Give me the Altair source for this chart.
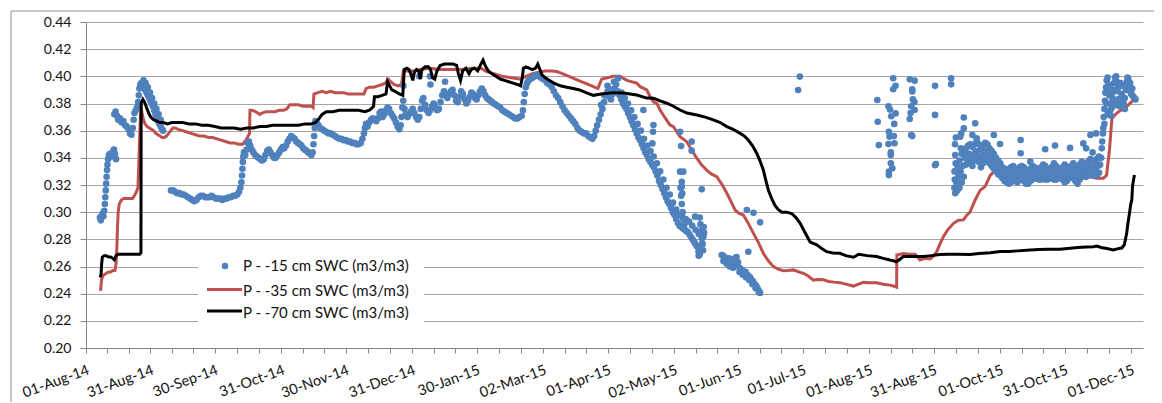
import json
from datetime import datetime

import altair as alt
import pandas as pd

# ---------------------------------------------------------------- data
BASE = pd.Timestamp("2014-08-01")          # day 0 of the x offsets below

series_names = ["P - -15 cm SWC (m3/m3)", "P - -35 cm SWC (m3/m3)", "P - -70 cm SWC (m3/m3)"]
series_colors = ["#4F81BD", "#C0504D", "#000000"]

tick_labels = ["01-Aug-14", "31-Aug-14", "30-Sep-14", "31-Oct-14", "30-Nov-14", "31-Dec-14",
               "30-Jan-15", "02-Mar-15", "01-Apr-15", "02-May-15", "01-Jun-15", "01-Jul-15",
               "01-Aug-15", "31-Aug-15", "01-Oct-15", "31-Oct-15", "01-Dec-15"]
y_ticks = [0.20, 0.22, 0.24, 0.26, 0.28, 0.30, 0.32, 0.34, 0.36, 0.38, 0.40, 0.42, 0.44]
x_end_day = 492.5

# -15 cm (days since 01-Aug-14, value)
swc15_aug14 = [(6.5, .296), (6.9, .294), (7.3, .297), (7.7, .299), (8.1, .297), (8.5, .301), (8.8, .306),
               (9.0, .311), (9.2, .316), (9.4, .321), (9.6, .326), (9.8, .331), (10.0, .335), (10.3, .339),
               (10.7, .342), (11.2, .343), (11.8, .341), (12.4, .344), (13.0, .346), (13.5, .343), (14.0, .339)]
swc15_aug14b = [(13.2, .372), (13.8, .374), (14.4, .371), (15.0, .368), (15.8, .369), (16.6, .366), (17.4, .367),
                (18.2, .364), (19.0, .363), (19.8, .361), (20.5, .358), (21.2, .357), (21.8, .362), (22.2, .368),
                (22.6, .373), (23.2, .375), (23.8, .377), (24.3, .381), (24.6, .386), (24.9, .391), (25.3, .394),
                (25.8, .395), (26.4, .394), (27.0, .392), (27.6, .390), (28.2, .388), (28.8, .386), (29.4, .384),
                (30.0, .382), (30.6, .380), (31.2, .378), (31.8, .375), (32.4, .372), (33.0, .370), (33.6, .367),
                (34.2, .365), (34.8, .363), (35.4, .361), (35.9, .360), (26.8, .397), (27.8, .395), (28.8, .392),
                (29.8, .388), (30.8, .384), (31.8, .380), (32.8, .376), (33.8, .372), (34.8, .368)]
swc15_sep14 = [(39.6, .316), (40.5, .316), (41.5, .315), (42.5, .314), (43.5, .314), (44.5, .313), (45.5, .313),
               (46.5, .312), (47.5, .311), (48.5, .310), (49.5, .309), (50.5, .308), (51.5, .309), (52.5, .311),
               (53.5, .312), (54.5, .312), (55.5, .311), (56.5, .311), (57.5, .311), (58.5, .312), (59.5, .311),
               (60.5, .310), (61.5, .310), (62.5, .310), (63.5, .309), (64.5, .310), (65.5, .310), (66.5, .311),
               (67.5, .311), (68.5, .312), (69.5, .312), (70.5, .313), (71.3, .315), (71.9, .318), (72.4, .322),
               (72.7, .327), (72.9, .332), (73.1, .337), (73.3, .341), (73.6, .344)]
swc15_oct14 = [(74.2, .342), (74.8, .346), (75.3, .351), (75.9, .352), (76.5, .349), (77.2, .346), (78.0, .344),
               (78.8, .342), (79.6, .341), (80.4, .340), (81.2, .339), (82.0, .338), (82.8, .339), (83.6, .342),
               (84.4, .345), (85.2, .346), (86.0, .344), (86.8, .342), (87.6, .340), (88.4, .340), (89.2, .342),
               (90.0, .344), (90.8, .346), (91.6, .348), (92.4, .347), (93.2, .349), (94.0, .352), (94.8, .354),
               (95.6, .356), (96.4, .355), (97.2, .354), (98.0, .352), (98.8, .351), (99.6, .350), (100.4, .349),
               (101.2, .347), (102.0, .346), (102.8, .345), (103.6, .344), (104.4, .343), (105.0, .342),
               (105.6, .344), (106.0, .350), (106.3, .356), (106.6, .362), (106.9, .367), (107.5, .366),
               (108.3, .364), (109.1, .362), (110.0, .361), (111.0, .360), (112.0, .359), (113.0, .358),
               (114.0, .358), (115.0, .357), (116.0, .356), (117.0, .355), (118.0, .354), (119.0, .354),
               (120.0, .353), (121.0, .353), (122.0, .352), (123.0, .352), (124.0, .351), (125.0, .351),
               (126.0, .350), (127.0, .350), (128.0, .351), (128.8, .354), (129.5, .358), (130.0, .362),
               (130.5, .365), (131.2, .363), (132.0, .366), (132.8, .368), (133.6, .369), (134.4, .368),
               (135.2, .367), (136.0, .369), (136.8, .373), (137.5, .374), (138.2, .370), (139.0, .372),
               (139.8, .375), (140.5, .377), (141.2, .376), (142.0, .373), (142.8, .371), (143.6, .369),
               (144.4, .366), (145.2, .363), (146.0, .361)]
swc15_jan15 = [(146.6, .364), (147.0, .370), (147.4, .377), (147.8, .382), (148.4, .376), (149.0, .372),
               (149.8, .370), (150.6, .372), (151.4, .374), (152.2, .376), (153.0, .373), (153.8, .370),
               (154.6, .368), (155.3, .370), (156.0, .376), (156.6, .382), (157.2, .384), (158.0, .379),
               (158.8, .375), (159.6, .373), (160.4, .375), (161.2, .378), (162.0, .380), (162.8, .377),
               (163.6, .375), (164.4, .376), (165.2, .381), (166.0, .386), (166.8, .389), (167.6, .386),
               (168.4, .384), (169.2, .387), (170.0, .389), (170.8, .390), (171.6, .386), (172.4, .382),
               (173.2, .381), (174.0, .385), (174.8, .389), (175.6, .387), (176.4, .383), (177.2, .380),
               (178.0, .382), (178.8, .385), (179.6, .388), (180.4, .387), (181.2, .384), (182.0, .383),
               (182.8, .386), (183.6, .389), (184.4, .391), (185.2, .389), (186.0, .386), (186.8, .384),
               (187.6, .383), (188.4, .382), (189.2, .381), (190.0, .380), (191.0, .379), (192.0, .378),
               (193.0, .377), (194.0, .375), (195.0, .374), (196.0, .373), (197.0, .372), (198.0, .371),
               (199.0, .370), (200.0, .369), (201.0, .369), (202.0, .370), (203.0, .371), (203.6, .375),
               (204.0, .381), (204.4, .387), (204.9, .392), (205.5, .395), (206.2, .397), (207.0, .398),
               (208.0, .399), (209.0, .400), (210.0, .401), (211.0, .400), (212.0, .399), (213.0, .398),
               (214.0, .397), (215.0, .395), (216.0, .394), (217.0, .392), (218.0, .389), (219.0, .386),
               (220.0, .384), (221.0, .381), (222.0, .378), (223.0, .375), (224.0, .373), (225.0, .371),
               (226.0, .369), (227.0, .367), (228.0, .365), (229.0, .362), (230.0, .360), (231.0, .359),
               (232.0, .358), (233.0, .358), (234.0, .356), (235.0, .355), (236.0, .354),
               (147.9, .393), (155.3, .400), (160.3, .400), (160.5, .394), (167.3, .396)]
swc15_apr15 = [(236.8, .356), (237.5, .360), (238.2, .364), (239.0, .368), (239.8, .372), (240.6, .376),
               (241.4, .381), (242.2, .386), (243.0, .389), (243.8, .385), (244.6, .383), (245.4, .387),
               (246.2, .391), (247.0, .394), (247.8, .389), (248.6, .386), (249.4, .383), (250.2, .380),
               (251.0, .378), (251.8, .376), (252.6, .373), (253.4, .370), (254.2, .367), (255.0, .364),
               (255.8, .361), (256.6, .358), (257.4, .355), (258.2, .353), (259.0, .350), (259.8, .347),
               (260.6, .344), (261.4, .342), (262.2, .339), (263.0, .337), (263.8, .335), (264.6, .333),
               (265.4, .330), (266.2, .327), (267.0, .323), (267.8, .320), (268.6, .317), (269.4, .314),
               (270.2, .311), (271.0, .308), (271.8, .306), (272.6, .303), (273.4, .300), (274.2, .298),
               (275.0, .295), (275.8, .292), (276.6, .290), (277.4, .289), (278.2, .288), (279.0, .287),
               (279.8, .286), (280.6, .285), (281.4, .283), (282.2, .281), (283.0, .279), (283.8, .277),
               (284.6, .275), (285.4, .271), (286.0, .269), (286.6, .272), (287.2, .277), (287.7, .282)]
swc15_apr15_upper = [(240.0, .379), (241.5, .386), (243.0, .393), (244.5, .390), (246.0, .396), (249.5, .388),
                     (251.0, .384), (252.5, .380), (254.0, .375), (255.5, .370), (257.0, .365), (258.5, .360),
                     (260.0, .354), (261.5, .349), (263.0, .345), (264.5, .341), (266.0, .336), (267.5, .330),
                     (269.0, .324), (270.5, .318), (272.0, .313), (273.5, .307), (275.0, .302), (276.5, .298),
                     (278.0, .296), (279.5, .295), (281.0, .293), (282.5, .290), (284.0, .287), (285.5, .284)]
swc15_may15_scatter = [(277.0, .318), (277.3, .312), (277.6, .306), (278.0, .300), (278.4, .295), (278.8, .291),
                       (286.0, .296), (286.3, .291), (286.6, .286), (286.9, .281), (287.2, .276), (287.5, .272),
                       (285.5, .268), (287.8, .289), (288.0, .285), (248.0, .3985), (259.7, .3752),
                       (264.4, .3642), (264.2, .3592), (263.9, .3506), (276.8, .3592), (277.3, .3487),
                       (282.2, .3519), (282.2, .3453), (276.8, .3298), (278.3, .3298), (277.6, .3224),
                       (277.6, .3188), (277.8, .3139), (286.9, .3168), (283.8, .2967), (307.9, .3016),
                       (311.0, .2996), (314.1, .2925), (308.6, .2709)]
swc15_jun15 = [(296.2, .2685), (296.8, .268), (297.5, .267), (298.2, .266), (298.9, .265), (299.6, .266),
               (300.3, .265), (301.0, .263), (301.7, .264), (302.4, .266), (303.1, .267), (303.8, .263),
               (304.5, .259), (305.2, .258), (305.9, .257), (306.6, .256), (307.3, .256), (308.0, .254),
               (308.7, .253), (309.4, .252), (310.1, .250), (310.8, .249), (311.5, .247), (312.2, .246),
               (312.9, .244), (313.6, .242), (314.1, .2405), (297.0, .264), (298.5, .262), (300.0, .260),
               (301.5, .259), (303.0, .261), (304.5, .256), (306.0, .254), (307.5, .252), (309.0, .250),
               (310.5, .247), (312.0, .244), (313.5, .241)]
swc15_summer15 = [(332.6, .3998), (331.8, .3899), (368.7, .3826), (368.9, .3666), (369.4, .3494), (373.9, .3780),
                  (374.6, .3755), (375.2, .3706), (374.1, .3592), (374.4, .3556), (373.9, .3502), (375.0, .3421),
                  (375.0, .3360), (374.1, .3298), (374.1, .3273), (376.1, .3985), (377.2, .3930), (376.1, .3905),
                  (377.2, .3727), (376.4, .3560), (376.7, .3507), (375.7, .3323), (376.6, .3650), (375.0, .3440),
                  (383.8, .3978), (386.1, .3968), (385.0, .3905), (385.0, .3888), (385.3, .3830), (384.5, .3780),
                  (386.1, .3752), (383.8, .3686), (384.5, .3568), (385.0, .3560), (386.0, .3810), (384.2, .3730),
                  (395.6, .3930), (395.6, .3716), (396.0, .3355), (395.6, .3345), (403.1, .3985), (403.1, .3941)]
swc15_oct15_low = [(405, .314), (406, .316), (407, .318), (408, .322), (409, .326), (410, .335), (411, .338),
                   (412, .337), (413, .334), (414, .338), (415, .340), (416, .337), (417, .333), (418, .336),
                   (419, .339), (420, .338), (421, .336), (422, .334), (423, .332), (424, .330), (425, .328),
                   (426, .327), (427, .325), (428, .323), (429, .322), (430, .321), (431, .322), (432, .324),
                   (433, .323), (434, .322), (435, .324), (436, .325), (437, .323), (438, .321), (439, .321),
                   (440, .323), (441, .324), (442, .325), (443, .325), (444, .324), (445, .324), (446, .325),
                   (447, .324), (448, .324), (449, .325), (450, .325), (451, .324), (452, .324), (453, .325),
                   (454, .325), (455, .324), (456, .322), (457, .323), (458, .325), (459, .326), (460, .325),
                   (461, .323), (462, .321), (463, .324), (464, .326), (465, .327), (466, .326), (467, .327),
                   (468, .328), (469, .327), (470, .328), (471, .327), (472, .329)]
swc15_oct15_mid = [(405.5, .322), (406.5, .326), (407.5, .330), (408.5, .334), (409.5, .340), (410.5, .342),
                   (411.5, .343), (412.5, .341), (413.5, .342), (414.5, .345), (415.5, .345), (416.5, .341),
                   (417.5, .340), (418.5, .344), (419.5, .345), (420.5, .342), (421.5, .340), (422.5, .338),
                   (423.5, .335), (424.5, .334), (425.5, .332), (426.5, .330), (427.5, .328), (428.5, .327),
                   (429.5, .326), (430.5, .327), (431.5, .328), (432.5, .328), (433.5, .327), (434.5, .327),
                   (435.5, .329), (436.5, .328), (437.5, .326), (438.5, .325), (439.5, .327), (440.5, .329),
                   (441.5, .329), (442.5, .328), (443.5, .327), (444.5, .328), (445.5, .330), (446.5, .329),
                   (447.5, .328), (448.5, .328), (449.5, .329), (450.5, .330), (451.5, .329), (452.5, .328),
                   (453.5, .328), (454.5, .328), (455.5, .329), (456.5, .328), (457.5, .327), (458.5, .329),
                   (459.5, .330), (460.5, .329), (461.5, .327), (462.5, .328), (463.5, .330), (464.5, .331),
                   (465.5, .331), (466.5, .331), (467.5, .332), (468.5, .333), (469.5, .332), (470.5, .332),
                   (471.5, .334)]
swc15_oct15_high = [(405, .330), (406, .334), (407, .338), (408, .343), (409, .346), (410, .347), (411, .349),
                    (412, .350), (413, .348), (414, .350), (415, .352), (416, .350), (417, .347), (418, .349),
                    (419, .351), (420, .350), (421, .347), (422, .345), (423, .343), (424, .340), (425, .338),
                    (426, .336), (427, .333), (428, .332), (429, .331), (430, .332), (431, .333), (432, .334),
                    (433, .332), (434, .331), (435, .333), (436, .334), (437, .333), (438, .331), (439, .330),
                    (440, .332), (441, .334), (442, .333), (443, .332), (444, .331), (445, .333), (446, .335),
                    (447, .334), (448, .332), (449, .331), (450, .333), (451, .336), (452, .334), (453, .332),
                    (454, .331), (455, .333), (456, .335), (457, .333), (458, .332), (459, .334), (460, .336),
                    (461, .334), (462, .333), (463, .335), (464, .337), (465, .336), (466, .335), (467, .337),
                    (468, .339), (469, .338), (470, .337), (471, .339), (472, .341)]
swc15_oct15_scatter = [(404.6, .318), (404.8, .324), (404.7, .330), (405.2, .336), (405.0, .342), (404.9, .350),
                       (405.3, .355), (409.0, .3697), (409.0, .3617), (407.3, .3556), (407.8, .3580), (407.6, .3470),
                       (413.0, .3568), (414.3, .3654), (415.0, .3543), (423.0, .3568), (425.9, .3502),
                       (435.5, .3531), (435.5, .3434), (440.0, .3372), (446.9, .3463), (451.5, .3490),
                       (458.5, .3473), (464.7, .3506), (468.0, .3568), (470.6, .3580), (466.0, .3470),
                       (469.0, .3440)]
swc15_dec15 = [(472.5, .335), (473.0, .340), (473.3, .347), (473.5, .352), (473.8, .358), (474.0, .362),
               (474.2, .370), (474.5, .376), (474.8, .382), (475.0, .388), (475.3, .392), (475.6, .397),
               (476.0, .399), (476.5, .394), (476.8, .386), (477.0, .380), (477.3, .375), (477.6, .371),
               (478.0, .377), (478.3, .384), (478.6, .390), (479.0, .395), (479.5, .399), (480.0, .400),
               (480.3, .396), (480.6, .389), (481.0, .383), (481.5, .378), (482.0, .382), (482.5, .387),
               (483.0, .385), (483.5, .380), (484.0, .384), (484.5, .390), (485.0, .396), (485.3, .399),
               (485.7, .398), (486.0, .393), (486.5, .389), (487.0, .387), (487.5, .386), (488.0, .385),
               (488.5, .384), (489.0, .383), (476.0, .390), (477.0, .392), (478.0, .388), (479.0, .382),
               (480.0, .379), (481.0, .392), (482.0, .395), (483.0, .393), (484.0, .376), (486.5, .395),
               (487.5, .391), (474.5, .365), (476.0, .372), (475.5, .380)]

# -35 cm
swc35 = [(6.8, .242), (7.2, .250), (7.8, .253), (8.5, .254), (9.5, .255), (10.5, .256), (11.5, .256),
         (12.5, .257), (13.5, .257), (14.0, .262), (14.4, .275), (14.7, .290), (15.0, .300), (15.5, .306),
         (16.5, .309), (17.5, .310), (18.5, .310), (19.5, .310), (20.5, .310), (21.7, .310), (22.5, .312),
         (23.5, .315), (24.2, .318), (24.6, .335), (25.0, .355), (25.4, .372), (25.7, .377), (26.2, .372),
         (26.8, .368), (27.5, .365), (28.5, .363), (29.5, .362), (30.5, .361), (31.5, .360), (32.5, .358),
         (33.5, .357), (34.5, .356), (35.5, .355), (36.5, .355), (37.5, .356), (38.5, .358), (39.5, .360),
         (40.5, .362), (41.5, .362), (43.0, .361), (45.0, .360), (47.0, .359), (49.0, .358), (51.0, .357),
         (53.0, .356), (55.0, .356), (57.0, .355), (59.0, .355), (61.0, .354), (63.0, .353), (65.0, .352),
         (67.0, .351), (69.0, .351), (71.0, .350), (73.0, .350), (74.5, .353), (75.5, .356), (76.2, .358),
         (76.4, .375), (77.5, .375), (79.0, .374), (80.0, .373), (81.0, .372), (82.0, .373), (84.0, .374),
         (86.0, .374), (88.0, .374), (90.0, .375), (92.0, .375), (93.5, .376), (95.0, .379), (97.0, .379),
         (99.0, .379), (101.0, .378), (103.0, .378), (105.0, .378), (105.8, .377), (106.2, .387),
         (108.0, .388), (110.0, .389), (112.0, .388), (114.0, .389), (116.0, .388), (118.0, .388),
         (120.0, .388), (122.0, .387), (124.0, .387), (126.0, .387), (128.0, .387), (129.5, .387),
         (130.5, .391), (132.0, .392), (134.0, .392), (136.0, .393), (138.0, .394), (139.5, .395),
         (140.8, .398), (142.0, .396), (143.5, .394), (145.5, .393), (147.0, .394), (147.9, .404),
         (150.0, .404), (153.0, .404), (156.0, .405), (160.0, .406), (165.0, .405), (170.0, .405),
         (175.0, .405), (180.0, .406), (184.0, .406), (186.7, .4035), (190.0, .402), (194.0, .400),
         (198.0, .399), (202.0, .398), (205.0, .400), (208.0, .402), (211.0, .403), (214.0, .404),
         (217.0, .404), (219.3, .4035), (222.0, .402), (225.0, .400), (228.0, .398), (231.0, .396),
         (234.0, .394), (237.0, .392), (238.5, .391), (239.5, .395), (240.3, .398), (243.0, .399),
         (245.7, .400), (248.8, .400), (252.0, .397), (256.6, .395), (258.2, .3924), (261.3, .390),
         (262.8, .385), (264.5, .381), (266.0, .380), (267.5, .3752), (270.0, .369), (272.1, .3642),
         (273.7, .363), (276.8, .3556), (279.9, .3519), (282.5, .345), (284.6, .3397), (286.5, .3355),
         (289.2, .331), (291.5, .328), (293.9, .3261), (296.5, .320), (298.6, .3139), (300.5, .308),
         (302.4, .3016), (304.3, .299), (306.3, .2979), (308.5, .292), (311.0, .2844), (313.5, .277),
         (315.6, .2697), (318.0, .264), (320.3, .2599), (322.5, .258), (324.9, .2569), (327.0, .257),
         (329.6, .2575), (332.7, .2557), (334.3, .255), (336.5, .253), (338.9, .250), (341.0, .2505),
         (343.6, .2502), (346.0, .249), (348.5, .2485), (351.3, .2481), (354.0, .247), (357.6, .2456),
         (360.0, .247), (362.2, .2483), (365.0, .248), (368.4, .2481), (371.5, .247), (374.6, .2463),
         (376.5, .2455), (377.7, .2447), (377.8, .2685), (380.8, .2695), (383.5, .269), (386.3, .269),
         (387.5, .267), (388.6, .2648), (391.0, .266), (393.3, .2655), (395.0, .268), (396.4, .2709),
         (398.0, .277), (399.5, .282), (401.5, .287), (404.2, .2918), (406.5, .294), (408.8, .2943),
         (410.5, .298), (411.9, .300), (414.3, .309), (416.6, .316), (419.0, .319), (421.3, .327),
         (423.6, .3305), (428.0, .331), (435.0, .330), (445.0, .329), (455.0, .328), (465.0, .327),
         (471.0, .325), (474.0, .325), (475.5, .327), (476.9, .346), (478.0, .369), (480.3, .373),
         (483.0, .376), (485.0, .378), (488.0, .3825)]

# -70 cm
swc70 = [(6.6, .252), (7.0, .254), (7.3, .262), (7.6, .267), (8.5, .268), (9.5, .268), (10.5, .267),
         (11.5, .267), (12.5, .266), (13.2, .265), (14.0, .268), (15.0, .269), (17.0, .269), (19.0, .269),
         (21.0, .269), (23.0, .269), (25.0, .269), (25.6, .270), (25.7, .380), (26.5, .383), (27.3, .381),
         (28.2, .377), (29.2, .373), (30.2, .370), (31.5, .368), (33.0, .367), (34.5, .366), (36.0, .366),
         (38.0, .365), (40.0, .366), (42.0, .366), (45.0, .366), (48.0, .365), (51.0, .365), (54.0, .364),
         (57.0, .364), (60.0, .363), (63.0, .362), (66.0, .362), (69.0, .362), (72.0, .361), (75.0, .362),
         (78.0, .362), (81.0, .363), (84.0, .363), (87.0, .364), (90.0, .364), (93.0, .364), (96.0, .364),
         (99.0, .364), (102.0, .365), (105.0, .365), (107.0, .366), (108.7, .369), (110.0, .372),
         (112.0, .374), (115.0, .374), (118.0, .375), (121.0, .375), (124.0, .375), (127.0, .375),
         (130.0, .374), (132.0, .375), (133.4, .377), (134.0, .378), (134.4, .385), (136.0, .385),
         (138.0, .386), (139.8, .387), (140.5, .396), (141.5, .393), (142.5, .390), (144.0, .389),
         (146.0, .387), (147.6, .386), (148.3, .405), (149.5, .406), (150.5, .405), (151.5, .401),
         (152.3, .397), (153.0, .403), (154.0, .405), (155.0, .404), (155.8, .398), (156.5, .405),
         (158.0, .407), (159.5, .407), (160.5, .405), (161.5, .399), (162.5, .398), (163.5, .404),
         (165.0, .408), (167.0, .409), (169.0, .409), (171.0, .409), (172.7, .408), (173.5, .402),
         (174.5, .397), (175.5, .404), (177.0, .406), (178.5, .402), (179.5, .405), (181.0, .406),
         (182.5, .404), (184.0, .409), (185.0, .412), (186.0, .408), (187.5, .404), (189.0, .402),
         (191.0, .400), (193.0, .398), (195.0, .397), (197.0, .396), (199.0, .395), (201.0, .394),
         (202.5, .393), (203.3, .399), (203.8, .406), (205.0, .407), (206.5, .406), (208.0, .405),
         (209.5, .406), (210.5, .409), (211.5, .405), (212.5, .401), (214.0, .399), (216.0, .397),
         (218.0, .395), (221.0, .393), (224.0, .392), (227.0, .391), (230.0, .390), (233.0, .388),
         (236.4, .386), (240.0, .387), (245.8, .388), (250.4, .3877), (256.6, .3863), (261.3, .384),
         (264.4, .3838), (267.5, .382), (270.6, .3802), (273.7, .378), (276.8, .3752), (280.0, .373),
         (284.6, .3715), (288.5, .370), (292.3, .3679), (295.5, .366), (298.6, .363), (301.5, .361),
         (304.8, .358), (306.8, .356), (308.6, .3531), (310.5, .349), (312.5, .3434), (314.0, .338),
         (315.6, .331), (317.0, .322), (318.0, .316), (319.5, .310), (321.0, .305), (322.5, .302),
         (324.2, .300), (326.5, .300), (328.8, .299), (330.8, .296), (332.7, .292), (335.0, .285),
         (337.4, .278), (340.5, .276), (343.0, .273), (345.1, .2709), (348.0, .270), (351.3, .2697),
         (354.0, .268), (357.6, .2668), (360.0, .269), (364.0, .268), (368.4, .2673), (371.5, .266),
         (374.6, .2648), (376.2, .2643), (377.4, .2635), (379.0, .265), (380.8, .2673), (385.0, .2673),
         (390.2, .2673), (394.0, .268), (397.9, .2688), (402.0, .269), (406.0, .269), (411.9, .2688),
         (416.0, .2695), (421.3, .2702), (426.0, .271), (430.0, .271), (434.0, .2715), (439.9, .2722),
         (444.0, .2725), (448.0, .2727), (453.9, .2727), (458.5, .2734), (462.0, .274), (466.0, .2743),
         (469.4, .2746), (471.0, .2751), (473.0, .274), (475.6, .2732), (478.7, .2722), (481.8, .2735),
         (482.6, .2736), (483.8, .276), (484.9, .2844), (485.5, .292), (486.2, .2992), (486.8, .306),
         (487.3, .309), (487.6, .3188), (488.0, .323), (488.5, .3273)]

# ---------------------------------------------------------------- frames
def to_iso(day):
    return (BASE + pd.Timedelta(days=day)).strftime("%Y-%m-%dT%H:%M:%SZ")


def to_ms(ts):
    return int(ts.value // 10**6)


swc15_parts = [swc15_aug14, swc15_aug14b, swc15_sep14, swc15_oct14, swc15_jan15, swc15_apr15,
               swc15_apr15_upper, swc15_may15_scatter, swc15_jun15, swc15_summer15, swc15_oct15_low,
               swc15_oct15_mid, swc15_oct15_high, swc15_oct15_scatter, swc15_dec15]
df15 = pd.DataFrame([(to_iso(d), v) for part in swc15_parts for d, v in part], columns=["date", "swc"])
df35 = pd.DataFrame([(to_iso(d), v) for d, v in swc35], columns=["date", "swc"])
df70 = pd.DataFrame([(to_iso(d), v) for d, v in swc70], columns=["date", "swc"])
df35["order"] = range(len(df35))
df70["order"] = range(len(df70))

major_ms = [to_ms(pd.Timestamp(datetime.strptime(t, "%d-%b-%y"))) for t in tick_labels]
tick_ms = []
for a, b in zip(major_ms[:-1], major_ms[1:]):
    tick_ms += [a, a + (b - a) / 3, a + 2 * (b - a) / 3]
tick_ms.append(major_ms[-1])
x_domain = [to_ms(BASE), to_ms(BASE + pd.Timedelta(days=x_end_day))]

label_expr = f"{json.dumps(tick_labels)}[indexof({json.dumps(major_ms)}, time(datum.value))] || ''"

FONT = "Lato"
GRID = "#A6A6A6"
AXIS = "#868686"
TEXT = "#111111"

x_enc = alt.X("date:T", scale=alt.Scale(type="utc", domain=x_domain, nice=False),
              axis=alt.Axis(values=tick_ms, labelExpr=label_expr, title=None, grid=False,
                            labelAngle=340, labelAlign="right", labelBaseline="top",
                            labelPadding=10, tickSize=5, labelOverlap=False, labelFlush=False,
                            labelFont=FONT, labelFontSize=14.5, labelColor=TEXT,
                            domainColor=AXIS, tickColor=AXIS))
y_enc = alt.Y("swc:Q", scale=alt.Scale(domain=[0.20, 0.44], nice=False, zero=False),
              axis=alt.Axis(values=y_ticks, format=".2f", title=None, grid=True, gridColor=GRID,
                            tickSize=6, labelPadding=9, labelFlush=False, labelFont=FONT, labelFontSize=14,
                            labelColor=TEXT, domainColor=AXIS, tickColor=AXIS))

frame = alt.Chart(pd.DataFrame({"k": [0]})).mark_rect(filled=False, stroke="#8C8C8C", strokeWidth=1).encode(
    x=alt.value(-75), x2=alt.value(1075), y=alt.value(-11), y2=alt.value(400))

pts15 = alt.Chart(df15).mark_circle(size=44, opacity=1, color=series_colors[0]).encode(x=x_enc, y=y_enc)
line35 = alt.Chart(df35).mark_line(strokeWidth=3, color=series_colors[1]).encode(
    x=x_enc, y=y_enc, order="order:Q")
line70 = alt.Chart(df70).mark_line(strokeWidth=3, color=series_colors[2]).encode(
    x=x_enc, y=y_enc, order="order:Q")

# legend (Excel-style box inside the plot area)
legend_bg = alt.Chart(pd.DataFrame({"k": [0]})).mark_rect(fill="white").encode(
    x=alt.value(112), x2=alt.value(338), y=alt.value(228), y2=alt.value(303))
leg_dot = alt.Chart(pd.DataFrame({"series": [series_names[0]]})).mark_circle(
    size=44, opacity=1, color=series_colors[0]).encode(x=alt.value(139), y=alt.value(244))
leg_red = alt.Chart(pd.DataFrame({"series": [series_names[1]]})).mark_rule(
    strokeWidth=3, color=series_colors[1]).encode(x=alt.value(121), x2=alt.value(156), y=alt.value(267.5))
leg_blk = alt.Chart(pd.DataFrame({"series": [series_names[2]]})).mark_rule(
    strokeWidth=3, color=series_colors[2]).encode(x=alt.value(121), x2=alt.value(156), y=alt.value(289))
leg_texts = []
for name, ypos in zip(series_names, [244, 268.7, 290.7]):
    leg_texts.append(
        alt.Chart(pd.DataFrame({"series": [name]})).mark_text(
            align="left", baseline="middle", font=FONT, fontSize=15, color=TEXT).encode(
            x=alt.value(157), y=alt.value(ypos), text="series:N"))

# drawing order: -35 cm line under the -15 cm dots, -70 cm line on top
chart = alt.layer(frame, line35, pts15, line70, legend_bg, leg_dot, leg_red, leg_blk, *leg_texts).properties(
    width=1057, height=326,
    padding={"left": 78, "top": 14, "right": 11, "bottom": 54},
    autosize=alt.AutoSizeParams(type="none"),
    background="white",
).configure_view(strokeWidth=0)

chart.save("out.html", embed_options={"renderer": "svg", "actions": False})
